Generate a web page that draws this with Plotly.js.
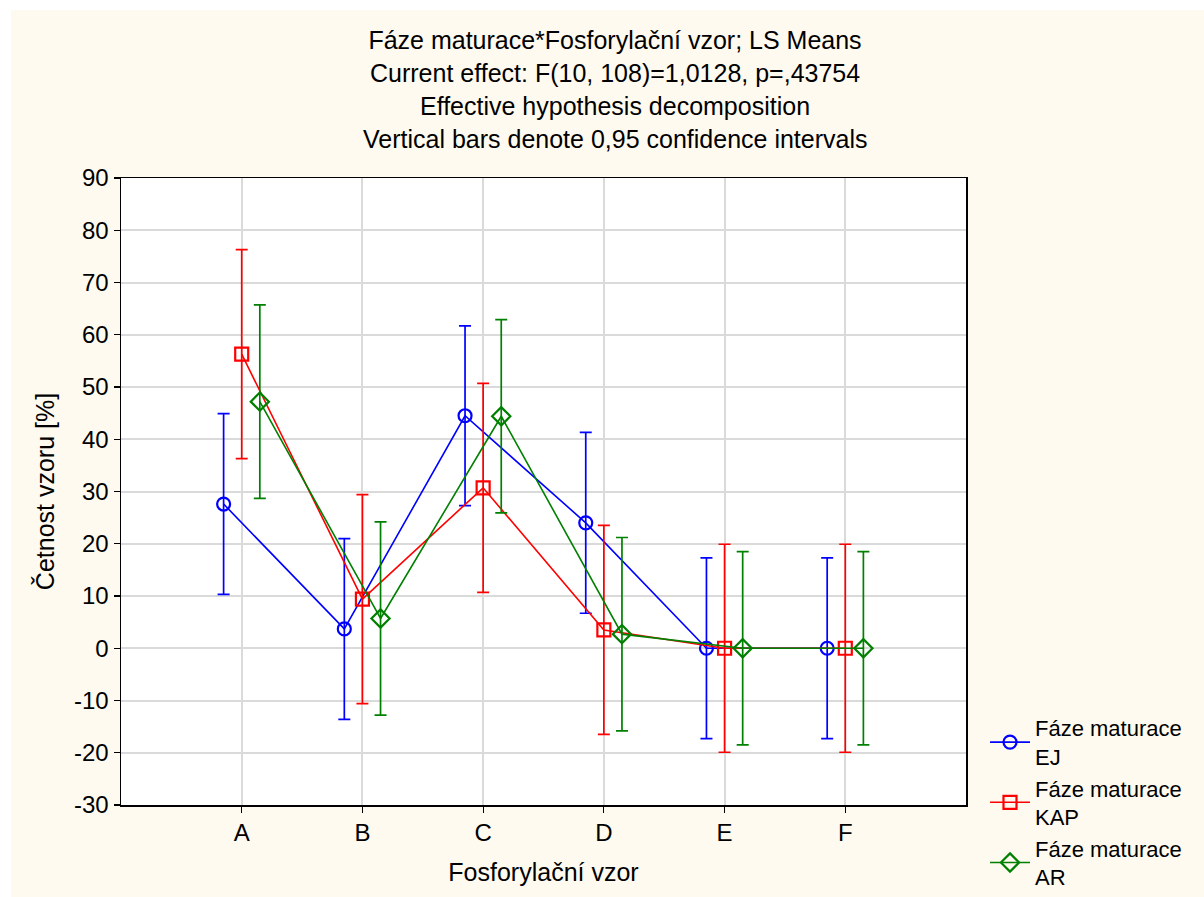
<!DOCTYPE html>
<html>
<head>
<meta charset="utf-8">
<script src="https://cdn.plot.ly/plotly-3.0.1.min.js"></script>
<style>html,body{margin:0;padding:0;background:#fff;}#chart{width:1204px;height:897px;}</style>
</head>
<body>
<div id="chart"></div>
<script>
// Data
var categories = ["A", "B", "C", "D", "E", "F"];
var seriesNames = ["Fáze maturace<br>EJ", "Fáze maturace<br>KAP", "Fáze maturace<br>AR"];
var meanEJ  = [27.6, 3.7, 44.5, 24.0, 0, 0];
var ciEJ    = [17.3, 17.3, 17.2, 17.3, 17.3, 17.3];
var meanKAP = [56.3, 9.4, 30.7, 3.5, 0, 0];
var ciKAP   = [20.0, 20.0, 20.0, 20.0, 19.9, 19.9];
var meanAR  = [47.2, 5.7, 44.4, 2.7, 0, 0];
var ciAR    = [18.5, 18.5, 18.5, 18.5, 18.5, 18.5];
var yTicks  = [-30, -20, -10, 0, 10, 20, 30, 40, 50, 60, 70, 80, 90];
var titleLines = [
  "Fáze maturace*Fosforylační vzor; LS Means",
  "Current effect: F(10, 108)=1,0128, p=,43754",
  "Effective hypothesis decomposition",
  "Vertical bars denote 0,95 confidence intervals"
];

var colors = ["#0000FF", "#FF0000", "#008000"];
var symbols = ["circle-open", "square-open", "diamond-open"];
var offsets = [-0.15, 0, 0.15];
var means = [meanEJ, meanKAP, meanAR];
var cis = [ciEJ, ciKAP, ciAR];
var idx = categories.map(function(c, i){ return i; });

var traces = means.map(function(m, s){
  return {
    type: "scatter",
    mode: "lines+markers",
    name: seriesNames[s],
    x: idx.map(function(i){ return i + offsets[s]; }),
    y: m,
    line: {color: colors[s], width: 1.6},
    marker: {symbol: symbols[s], size: s === 2 ? 14 : 13, color: colors[s], line: {color: colors[s], width: 2.2}},
    error_y: {type: "data", array: cis[s], visible: true, color: colors[s], thickness: 1.7, width: 6},
    cliponaxis: false
  };
});

var font = "'Liberation Sans', Arial, Helvetica, sans-serif";
var cream = "#FFFAF0";

var annotations = titleLines.slice(1).map(function(t, i){
  return {
    text: t, xref: "paper", yref: "paper",
    x: (615 - 121) / 845, y: 1 + (178 - (73 + 33 * i)) / 627,
    xanchor: "center", yanchor: "middle", showarrow: false,
    font: {family: font, size: 25, color: "#000"}
  };
});

var layout = {
  width: 1204, height: 897,
  margin: {l: 121, r: 238, t: 178, b: 92, autoexpand: false},
  paper_bgcolor: cream,
  plot_bgcolor: "#FFFFFF",
  font: {family: font, size: 24, color: "#000"},
  title: {
    text: titleLines[0],
    x: 615 / 1204, xanchor: "center", xref: "container",
    y: 1 - 40 / 897, yanchor: "middle", yref: "container",
    font: {family: font, size: 25, color: "#000"}
  },
  annotations: annotations,
  xaxis: {
    range: [-1, 6],
    tickmode: "array", tickvals: idx, ticktext: categories,
    showgrid: true, gridcolor: "#DADADA", gridwidth: 2,
    showline: true, linecolor: "#000", linewidth: 1.5, mirror: true,
    ticks: "outside", ticklen: 6, tickcolor: "#000", tickwidth: 1.2,
    zeroline: false,
    tickfont: {family: font, size: 24},
    title: {text: "Fosforylační vzor", font: {family: font, size: 25}, standoff: 18}
  },
  yaxis: {
    range: [-30, 90],
    tickmode: "array", tickvals: yTicks, ticktext: yTicks.map(String),
    showgrid: true, gridcolor: "#DADADA", gridwidth: 2,
    showline: true, linecolor: "#000", linewidth: 1.5, mirror: true,
    ticks: "outside", ticklen: 6, tickcolor: "#000", tickwidth: 1.2,
    zeroline: false,
    tickfont: {family: font, size: 24},
    title: {text: "Četnost vzoru [%]", font: {family: font, size: 25}, standoff: 12}
  },
  legend: {
    x: (985 - 121) / 845, xanchor: "left",
    y: (805 - 707) / 627, yanchor: "top",
    bgcolor: "rgba(0,0,0,0)",
    font: {family: font, size: 22, color: "#000"},
    itemwidth: 40, tracegroupgap: 0
  },
  showlegend: true,
  shapes: [
    {type: "rect", xref: "paper", yref: "paper", layer: "below",
     x0: -121 / 845, x1: (1204 - 121) / 845,
     y0: 1 + (178 - 10) / 627, y1: 1 + 178 / 627,
     fillcolor: "#FFFFFF", line: {width: 0}},
    {type: "rect", xref: "paper", yref: "paper", layer: "below",
     x0: -121 / 845, x1: (11 - 121) / 845,
     y0: -92 / 627, y1: 1 + 178 / 627,
     fillcolor: "#FFFFFF", line: {width: 0}}
  ]
};

Plotly.newPlot("chart", traces, layout, {displayModeBar: false, staticPlot: true});
</script>
</body>
</html>
